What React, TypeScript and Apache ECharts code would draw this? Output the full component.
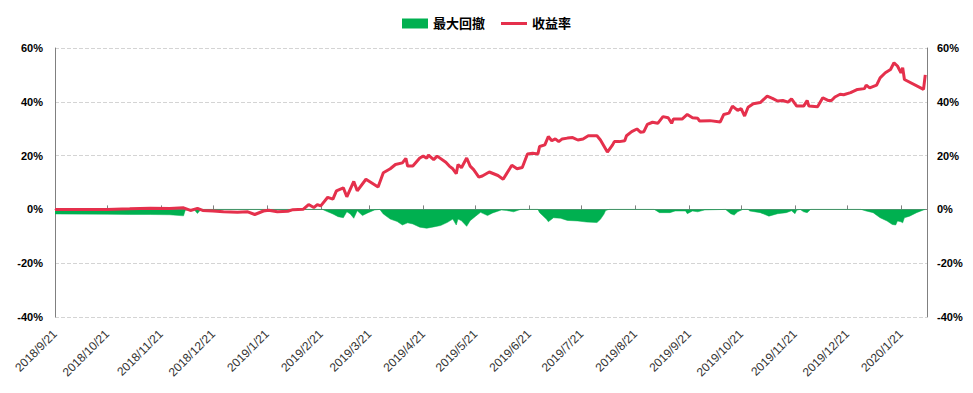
import { useEffect, useRef } from 'react';
import * as echarts from 'echarts';

const FONT = '"Liberation Sans", Arial, "Noto Sans CJK SC", sans-serif';
const GREEN = '#00B050';
const RED = '#E5304C';

// Calendar range of the date axis
const START_DATE = [2018, 9, 21];
const END_DATE = [2020, 2, 5];

// 收益率 (%)
const retDates = [
  '2018/9/21', '2018/10/21', '2018/11/3', '2018/11/15', '2018/11/26', '2018/12/4', '2018/12/8', '2018/12/12', '2018/12/15', '2018/12/21',
  '2018/12/27', '2019/1/4', '2019/1/10', '2019/1/14', '2019/1/19', '2019/1/22', '2019/1/27', '2019/2/2', '2019/2/5', '2019/2/11',
  '2019/2/14', '2019/2/17', '2019/2/19', '2019/2/21', '2019/2/25', '2019/2/28', '2019/3/2', '2019/3/6', '2019/3/8', '2019/3/12',
  '2019/3/14', '2019/3/19', '2019/3/26', '2019/3/29', '2019/4/2', '2019/4/5', '2019/4/9', '2019/4/11', '2019/4/12', '2019/4/15',
  '2019/4/19', '2019/4/21', '2019/4/23', '2019/4/24', '2019/4/27', '2019/4/29', '2019/5/4', '2019/5/6', '2019/5/8', '2019/5/10',
  '2019/5/11', '2019/5/13', '2019/5/16', '2019/5/18', '2019/5/20', '2019/5/23', '2019/5/25', '2019/5/29', '2019/6/3', '2019/6/6',
  '2019/6/8', '2019/6/11', '2019/6/14', '2019/6/17', '2019/6/20', '2019/6/23', '2019/6/26', '2019/6/27', '2019/6/30', '2019/7/2',
  '2019/7/4', '2019/7/6', '2019/7/8', '2019/7/10', '2019/7/13', '2019/7/16', '2019/7/19', '2019/7/22', '2019/7/25', '2019/7/30',
  '2019/8/1', '2019/8/5', '2019/8/8', '2019/8/9', '2019/8/12', '2019/8/15', '2019/8/16', '2019/8/19', '2019/8/22', '2019/8/24',
  '2019/8/26', '2019/8/28', '2019/8/31', '2019/9/3', '2019/9/6', '2019/9/9', '2019/9/11', '2019/9/12', '2019/9/17', '2019/9/20',
  '2019/9/23', '2019/9/26', '2019/9/27', '2019/10/3', '2019/10/9', '2019/10/11', '2019/10/14', '2019/10/16', '2019/10/19', '2019/10/21',
  '2019/10/23', '2019/10/25', '2019/10/28', '2019/11/1', '2019/11/5', '2019/11/8', '2019/11/11', '2019/11/14', '2019/11/17', '2019/11/19',
  '2019/11/22', '2019/11/26', '2019/11/28', '2019/11/29', '2019/12/4', '2019/12/7', '2019/12/10', '2019/12/12', '2019/12/14', '2019/12/17',
  '2019/12/19', '2019/12/23', '2019/12/27', '2019/12/31', '2020/1/1', '2020/1/3', '2020/1/7', '2020/1/9', '2020/1/12', '2020/1/15',
  '2020/1/17', '2020/1/19', '2020/1/21', '2020/1/22', '2020/1/23', '2020/2/3', '2020/2/4',
];
const retValues = [
  0, 0, 0.2, 0.4, 0.3, 0.6, -0.4, 0.4, -0.4, -0.6,
  -0.9, -1.1, -0.9, -1.9, -0.6, -0.3, -0.9, -0.7, -0.1, 0.1,
  1.8, 0.7, 1.8, 1.3, 4.5, 3.8, 6.9, 8.0, 4.7, 10.4,
  6.9, 11.2, 8.3, 13.6, 15.1, 16.7, 17.3, 19.0, 16.1, 16.1,
  19.1, 19.8, 19.0, 20.2, 18.5, 19.8, 17.5, 16.1, 15.1, 13.3,
  16.7, 15.5, 19.1, 16.1, 14.8, 12.0, 12.4, 13.9, 12.6, 11.2,
  13.3, 16.4, 15.1, 15.6, 20.6, 20.9, 20.6, 23.4, 24.0, 27.1,
  25.5, 26.2, 25.2, 26.2, 26.5, 26.7, 25.8, 26.2, 27.4, 27.4,
  25.8, 21.3, 24.0, 25.2, 25.2, 25.5, 27.4, 28.9, 29.9, 28.7,
  28.9, 31.6, 32.4, 32.0, 34.5, 34.1, 32.0, 33.6, 33.6, 35.3,
  34.1, 33.9, 32.9, 33.0, 32.5, 35.3, 35.8, 38.4, 36.8, 37.5,
  34.7, 38.0, 39.3, 39.7, 42.1, 41.3, 40.3, 40.5, 39.9, 41.1,
  38.4, 38.4, 40.5, 38.4, 38.2, 41.5, 40.5, 40.5, 41.8, 42.8,
  42.6, 43.4, 44.6, 44.9, 46.2, 45.2, 46.2, 48.9, 50.8, 52.0,
  54.5, 53.3, 50.8, 52.7, 48.3, 44.6, 50.0,
];

// 最大回撤 (%)
const ddDates = [
  '2018/9/21', '2018/10/21', '2018/11/3', '2018/11/15', '2018/11/26', '2018/12/4', '2018/12/5', '2018/12/10', '2018/12/12', '2018/12/14',
  '2019/2/22', '2019/2/25', '2019/2/28', '2019/3/3', '2019/3/6', '2019/3/8', '2019/3/10', '2019/3/12', '2019/3/14', '2019/3/17',
  '2019/3/20', '2019/3/24', '2019/3/27', '2019/3/29', '2019/4/2', '2019/4/6', '2019/4/9', '2019/4/12', '2019/4/15', '2019/4/19',
  '2019/4/23', '2019/4/27', '2019/5/1', '2019/5/5', '2019/5/8', '2019/5/10', '2019/5/11', '2019/5/13', '2019/5/16', '2019/5/18',
  '2019/5/21', '2019/5/24', '2019/5/28', '2019/5/31', '2019/6/5', '2019/6/8', '2019/6/12', '2019/6/16', '2019/6/26', '2019/6/27',
  '2019/7/1', '2019/7/2', '2019/7/5', '2019/7/9', '2019/7/13', '2019/7/19', '2019/7/24', '2019/7/30', '2019/8/1', '2019/8/3',
  '2019/8/4', '2019/8/6', '2019/9/1', '2019/9/4', '2019/9/10', '2019/9/13', '2019/9/19', '2019/9/20', '2019/9/23', '2019/9/26',
  '2019/9/30', '2019/10/12', '2019/10/15', '2019/10/17', '2019/10/19', '2019/10/22', '2019/10/25', '2019/10/26', '2019/11/1', '2019/11/6',
  '2019/11/11', '2019/11/16', '2019/11/19', '2019/11/21', '2019/11/22', '2019/11/24', '2019/11/26', '2019/11/28', '2019/11/30', '2019/12/29',
  '2020/1/1', '2020/1/5', '2020/1/9', '2020/1/13', '2020/1/16', '2020/1/18', '2020/1/19', '2020/1/21', '2020/1/22', '2020/1/23',
  '2020/1/26', '2020/1/30', '2020/2/3', '2020/2/4',
];
const ddValues = [
  -1.7, -1.8, -1.9, -1.9, -2.0, -2.4, -0.3, 0, -1.5, 0,
  0, -0.9, -1.7, -2.7, -3.1, -0.9, -1.7, -3.3, -0.5, -2.3,
  -1.3, -0.2, 0, -1.7, -3.6, -4.5, -5.8, -5.0, -5.4, -6.6,
  -7.0, -6.5, -6.0, -4.8, -3.6, -5.8, -3.6, -4.2, -6.3, -4.2,
  -2.6, -1.1, -2.3, -1.3, -0.2, -0.4, -0.9, 0, 0, -1.2,
  -3.7, -4.6, -3.1, -3.3, -4.1, -4.3, -4.7, -4.9, -3.7, -1.8,
  -0.4, 0, 0, -1.2, -1.2, -0.6, -0.6, -1.6, -0.6, -0.9,
  -0.2, 0, -1.6, -2.1, -0.9, 0, 0, -0.6, -1.2, -2.5,
  -1.6, -1.2, -0.5, -1.6, -0.3, 0, -0.9, -1.2, 0, 0,
  -0.6, -1.2, -3.1, -4.3, -5.6, -5.8, -4.3, -4.6, -5.0, -3.1,
  -2.5, -1.2, -0.2, 0,
];

const yTicks = { min: -40, max: 60, interval: 20 };

function buildDays(): string[] {
  const out: string[] = [];
  const d = new Date(START_DATE[0], START_DATE[1] - 1, START_DATE[2], 12);
  const end = new Date(END_DATE[0], END_DATE[1] - 1, END_DATE[2], 12);
  while (d.getTime() <= end.getTime()) {
    out.push(`${d.getFullYear()}/${d.getMonth() + 1}/${d.getDate()}`);
    d.setDate(d.getDate() + 1);
  }
  return out;
}

function toSeries(days: string[], dates: string[], values: number[]) {
  const arr: (number | null)[] = days.map(() => null);
  dates.forEach((dt, i) => {
    const idx = days.indexOf(dt);
    if (idx >= 0 && i < values.length) arr[idx] = values[i];
  });
  return arr;
}

const isMonthTick = (v: string) => v.split('/')[2] === '21';

export default function App() {
  const ref = useRef<HTMLDivElement>(null);
  useEffect(() => {
    document.body.style.margin = '0';
    if (!ref.current) return;
    const chart = echarts.init(ref.current, null, { renderer: 'svg' });
    const days = buildDays();
    const retData = toSeries(days, retDates, retValues);
    const ddData = toSeries(days, ddDates, ddValues);
    const yAxisBase = {
      type: 'value',
      min: yTicks.min,
      max: yTicks.max,
      interval: yTicks.interval,
      axisLine: { show: true, lineStyle: { color: '#808080', width: 1 } },
      axisTick: { show: false },
      axisLabel: {
        formatter: '{value}%',
        fontWeight: 'bold',
        fontSize: 11,
        color: '#000',
        fontFamily: FONT,
      },
    };
    chart.setOption({
      animation: false,
      backgroundColor: '#ffffff',
      textStyle: { fontFamily: FONT },
      legend: {
        top: 12,
        left: 'center',
        itemWidth: 26,
        itemHeight: 10,
        itemGap: 16,
        symbolKeepAspect: true,
        textStyle: { fontSize: 13, fontWeight: 'bold', color: '#000', fontFamily: FONT },
        data: [
          { name: '最大回撤', icon: 'rect' },
          { name: '收益率', icon: 'path://M0,0H26V3H0Z' },
        ],
      },
      grid: { left: 55, right: 46, top: 48, bottom: 76 },
      xAxis: [
        {
          type: 'category',
          data: days,
          boundaryGap: false,
          position: 'bottom',
          axisLine: { show: false, onZero: false },
          axisTick: { show: false },
          splitLine: { show: false },
          axisLabel: {
            interval: (_i: number, v: string) => isMonthTick(v),
            rotate: 45,
            fontSize: 12,
            color: '#333',
            margin: 15,
            fontFamily: FONT,
          },
        },
        {
          type: 'category',
          data: days,
          boundaryGap: false,
          position: 'top',
          axisLine: { show: true, onZero: true, lineStyle: { color: '#808080', width: 1 } },
          axisTick: {
            show: true,
            interval: (_i: number, v: string) => isMonthTick(v),
            length: 4,
            lineStyle: { color: '#808080' },
          },
          axisLabel: { show: false },
          splitLine: { show: false },
        },
      ],
      yAxis: [
        {
          ...yAxisBase,
          position: 'left',
          axisLabel: { ...yAxisBase.axisLabel, margin: 12 },
          splitLine: { show: true, lineStyle: { type: 'dashed', color: '#d4d4d4' } },
        },
        {
          ...yAxisBase,
          position: 'right',
          axisLabel: { ...yAxisBase.axisLabel, margin: 10 },
          splitLine: { show: false },
        },
      ],
      series: [
        {
          name: '最大回撤',
          type: 'line',
          xAxisIndex: 0,
          yAxisIndex: 0,
          data: ddData,
          connectNulls: true,
          symbol: 'none',
          lineStyle: { width: 0.5, color: GREEN },
          areaStyle: { color: GREEN, opacity: 1 },
          itemStyle: { color: GREEN },
          z: 2,
        },
        {
          name: '收益率',
          type: 'line',
          xAxisIndex: 0,
          yAxisIndex: 0,
          data: retData,
          connectNulls: true,
          symbol: 'none',
          lineStyle: { width: 3, color: RED },
          itemStyle: { color: RED },
          z: 3,
        },
      ],
    });
    return () => chart.dispose();
  }, []);
  return <div ref={ref} style={{ width: 973, height: 393 }} />;
}
